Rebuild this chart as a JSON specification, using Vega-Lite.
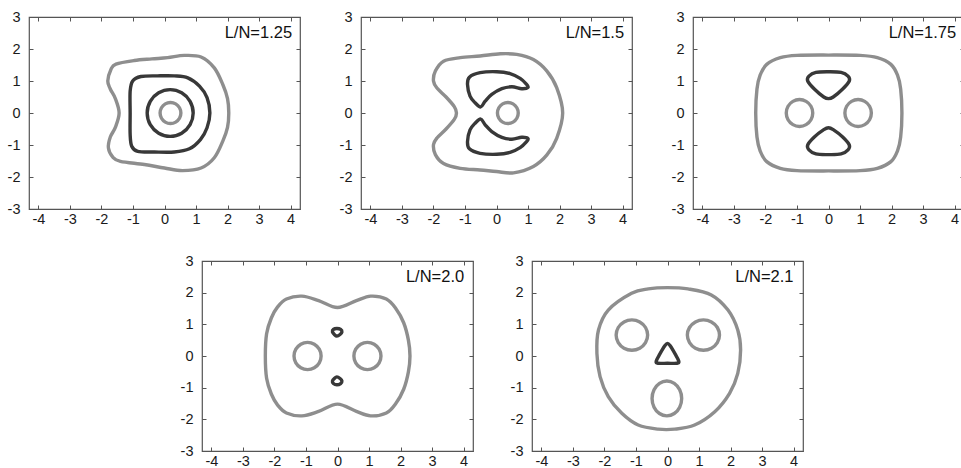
{
"$schema":"https://vega.github.io/schema/vega-lite/v6.json",
"autosize":{"type":"pad"},
"padding":{"left":6,"top":8,"right":0,"bottom":0},
"background":"white",
"config":{
 "font":"Liberation Sans",
 "view":{"stroke":"#555555","strokeWidth":1.2},
 "axis":{"domain":false,"grid":false,"tickSize":-4,"tickColor":"#555555","tickWidth":1,"labelFontSize":14.5,"labelColor":"#1a1a1a","labelFont":"Liberation Sans","labelFlush":false,"labelOverlap":false,"labelExpr":"replace(datum.label, '\u2212', '-')"},
 "axisX":{"labelPadding":7},
 "axisY":{"labelPadding":13}
},
"datasets":{
"lab":[
 {"p":1,"x":4.05,"y":2.5,"label":"L/N=1.25"},
 {"p":2,"x":4.05,"y":2.5,"label":"L/N=1.5"},
 {"p":3,"x":4.05,"y":2.5,"label":"L/N=1.75"},
 {"p":4,"x":4.02,"y":2.5,"label":"L/N=2.0"},
 {"p":5,"x":4.0,"y":2.5,"label":"L/N=2.1"}
],
"c":[
{"p":1,"c":"1a","t":"g","i":0,"x":0.52,"y":0},
{"p":1,"c":"1a","t":"g","i":1,"x":0.476,"y":0.165},
{"p":1,"c":"1a","t":"g","i":2,"x":0.355,"y":0.286},
{"p":1,"c":"1a","t":"g","i":3,"x":0.19,"y":0.33},
{"p":1,"c":"1a","t":"g","i":4,"x":0.025,"y":0.286},
{"p":1,"c":"1a","t":"g","i":5,"x":-0.096,"y":0.165},
{"p":1,"c":"1a","t":"g","i":6,"x":-0.14,"y":0},
{"p":1,"c":"1a","t":"g","i":7,"x":-0.096,"y":-0.165},
{"p":1,"c":"1a","t":"g","i":8,"x":0.025,"y":-0.286},
{"p":1,"c":"1a","t":"g","i":9,"x":0.19,"y":-0.33},
{"p":1,"c":"1a","t":"g","i":10,"x":0.355,"y":-0.286},
{"p":1,"c":"1a","t":"g","i":11,"x":0.476,"y":-0.165},

{"p":1,"c":"1b","t":"d","i":0,"x":0.91,"y":0},
{"p":1,"c":"1b","t":"d","i":1,"x":0.812,"y":0.365},
{"p":1,"c":"1b","t":"d","i":2,"x":0.545,"y":0.632},
{"p":1,"c":"1b","t":"d","i":3,"x":0.18,"y":0.73},
{"p":1,"c":"1b","t":"d","i":4,"x":-0.185,"y":0.632},
{"p":1,"c":"1b","t":"d","i":5,"x":-0.452,"y":0.365},
{"p":1,"c":"1b","t":"d","i":6,"x":-0.55,"y":0},
{"p":1,"c":"1b","t":"d","i":7,"x":-0.452,"y":-0.365},
{"p":1,"c":"1b","t":"d","i":8,"x":-0.185,"y":-0.632},
{"p":1,"c":"1b","t":"d","i":9,"x":0.18,"y":-0.73},
{"p":1,"c":"1b","t":"d","i":10,"x":0.545,"y":-0.632},
{"p":1,"c":"1b","t":"d","i":11,"x":0.812,"y":-0.365},

{"p":1,"c":"1c","t":"d","i":0,"x":-1.09,"y":0},
{"p":1,"c":"1c","t":"d","i":1,"x":-1.09,"y":0.68},
{"p":1,"c":"1c","t":"d","i":2,"x":-1.01,"y":1.0},
{"p":1,"c":"1c","t":"d","i":3,"x":-0.75,"y":1.14},
{"p":1,"c":"1c","t":"d","i":4,"x":-0.22,"y":1.16},
{"p":1,"c":"1c","t":"d","i":5,"x":0.31,"y":1.16},
{"p":1,"c":"1c","t":"d","i":6,"x":0.74,"y":1.1},
{"p":1,"c":"1c","t":"d","i":7,"x":1.11,"y":0.84},
{"p":1,"c":"1c","t":"d","i":8,"x":1.35,"y":0.48},
{"p":1,"c":"1c","t":"d","i":9,"x":1.44,"y":0},
{"p":1,"c":"1c","t":"d","i":10,"x":1.35,"y":-0.46},
{"p":1,"c":"1c","t":"d","i":11,"x":1.14,"y":-0.83},
{"p":1,"c":"1c","t":"d","i":12,"x":0.79,"y":-1.12},
{"p":1,"c":"1c","t":"d","i":13,"x":0.31,"y":-1.22},
{"p":1,"c":"1c","t":"d","i":14,"x":-0.32,"y":-1.22},
{"p":1,"c":"1c","t":"d","i":15,"x":-0.85,"y":-1.2},
{"p":1,"c":"1c","t":"d","i":16,"x":-1.04,"y":-1.04},
{"p":1,"c":"1c","t":"d","i":17,"x":-1.09,"y":-0.67},

{"p":1,"c":"1d","t":"g","i":0,"x":-1.8,"y":1.0},
{"p":1,"c":"1d","t":"g","i":1,"x":-1.7,"y":1.36},
{"p":1,"c":"1d","t":"g","i":2,"x":-1.54,"y":1.53},
{"p":1,"c":"1d","t":"g","i":3,"x":-0.96,"y":1.64},
{"p":1,"c":"1d","t":"g","i":4,"x":-0.4,"y":1.69},
{"p":1,"c":"1d","t":"g","i":5,"x":0.1,"y":1.73},
{"p":1,"c":"1d","t":"g","i":6,"x":0.63,"y":1.8},
{"p":1,"c":"1d","t":"g","i":7,"x":1.16,"y":1.75},
{"p":1,"c":"1d","t":"g","i":8,"x":1.58,"y":1.41},
{"p":1,"c":"1d","t":"g","i":9,"x":1.85,"y":0.89},
{"p":1,"c":"1d","t":"g","i":10,"x":2.0,"y":0.45},
{"p":1,"c":"1d","t":"g","i":11,"x":2.04,"y":0},
{"p":1,"c":"1d","t":"g","i":12,"x":2.0,"y":-0.45},
{"p":1,"c":"1d","t":"g","i":13,"x":1.85,"y":-0.88},
{"p":1,"c":"1d","t":"g","i":14,"x":1.58,"y":-1.4},
{"p":1,"c":"1d","t":"g","i":15,"x":1.16,"y":-1.72},
{"p":1,"c":"1d","t":"g","i":16,"x":0.57,"y":-1.8},
{"p":1,"c":"1d","t":"g","i":17,"x":0,"y":-1.72},
{"p":1,"c":"1d","t":"g","i":18,"x":-0.64,"y":-1.61},
{"p":1,"c":"1d","t":"g","i":19,"x":-1.4,"y":-1.51},
{"p":1,"c":"1d","t":"g","i":20,"x":-1.64,"y":-1.38},
{"p":1,"c":"1d","t":"g","i":21,"x":-1.78,"y":-1.09},
{"p":1,"c":"1d","t":"g","i":22,"x":-1.72,"y":-0.75},
{"p":1,"c":"1d","t":"g","i":23,"x":-1.56,"y":-0.45},
{"p":1,"c":"1d","t":"g","i":24,"x":-1.44,"y":0},
{"p":1,"c":"1d","t":"g","i":25,"x":-1.56,"y":0.45},
{"p":1,"c":"1d","t":"g","i":26,"x":-1.72,"y":0.75},

{"p":2,"c":"2a","t":"g","i":0,"x":0.69,"y":0},
{"p":2,"c":"2a","t":"g","i":1,"x":0.646,"y":0.165},
{"p":2,"c":"2a","t":"g","i":2,"x":0.525,"y":0.286},
{"p":2,"c":"2a","t":"g","i":3,"x":0.36,"y":0.33},
{"p":2,"c":"2a","t":"g","i":4,"x":0.195,"y":0.286},
{"p":2,"c":"2a","t":"g","i":5,"x":0.074,"y":0.165},
{"p":2,"c":"2a","t":"g","i":6,"x":0.03,"y":0},
{"p":2,"c":"2a","t":"g","i":7,"x":0.074,"y":-0.165},
{"p":2,"c":"2a","t":"g","i":8,"x":0.195,"y":-0.286},
{"p":2,"c":"2a","t":"g","i":9,"x":0.36,"y":-0.33},
{"p":2,"c":"2a","t":"g","i":10,"x":0.525,"y":-0.286},
{"p":2,"c":"2a","t":"g","i":11,"x":0.646,"y":-0.165},

{"p":2,"c":"2b","t":"d","i":0,"x":-0.92,"y":0.89},
{"p":2,"c":"2b","t":"d","i":1,"x":-0.86,"y":1.12},
{"p":2,"c":"2b","t":"d","i":2,"x":-0.52,"y":1.26},
{"p":2,"c":"2b","t":"d","i":3,"x":0.01,"y":1.29},
{"p":2,"c":"2b","t":"d","i":4,"x":0.43,"y":1.23},
{"p":2,"c":"2b","t":"d","i":5,"x":0.75,"y":1.08},
{"p":2,"c":"2b","t":"d","i":6,"x":0.94,"y":0.91},
{"p":2,"c":"2b","t":"d","i":7,"x":1.0,"y":0.8},
{"p":2,"c":"2b","t":"d","i":8,"x":0.8,"y":0.76},
{"p":2,"c":"2b","t":"d","i":9,"x":0.49,"y":0.82},
{"p":2,"c":"2b","t":"d","i":10,"x":0.17,"y":0.76},
{"p":2,"c":"2b","t":"d","i":11,"x":-0.15,"y":0.58},
{"p":2,"c":"2b","t":"d","i":12,"x":-0.36,"y":0.37},
{"p":2,"c":"2b","t":"d","i":13,"x":-0.5,"y":0.19},
{"p":2,"c":"2b","t":"d","i":14,"x":-0.68,"y":0.32},
{"p":2,"c":"2b","t":"d","i":15,"x":-0.84,"y":0.53},

{"p":2,"c":"2c","t":"d","i":0,"x":-0.92,"y":-0.89},
{"p":2,"c":"2c","t":"d","i":1,"x":-0.86,"y":-1.12},
{"p":2,"c":"2c","t":"d","i":2,"x":-0.52,"y":-1.26},
{"p":2,"c":"2c","t":"d","i":3,"x":0.01,"y":-1.29},
{"p":2,"c":"2c","t":"d","i":4,"x":0.43,"y":-1.23},
{"p":2,"c":"2c","t":"d","i":5,"x":0.75,"y":-1.08},
{"p":2,"c":"2c","t":"d","i":6,"x":0.94,"y":-0.91},
{"p":2,"c":"2c","t":"d","i":7,"x":1.0,"y":-0.8},
{"p":2,"c":"2c","t":"d","i":8,"x":0.8,"y":-0.76},
{"p":2,"c":"2c","t":"d","i":9,"x":0.49,"y":-0.82},
{"p":2,"c":"2c","t":"d","i":10,"x":0.17,"y":-0.76},
{"p":2,"c":"2c","t":"d","i":11,"x":-0.15,"y":-0.58},
{"p":2,"c":"2c","t":"d","i":12,"x":-0.36,"y":-0.37},
{"p":2,"c":"2c","t":"d","i":13,"x":-0.5,"y":-0.19},
{"p":2,"c":"2c","t":"d","i":14,"x":-0.68,"y":-0.32},
{"p":2,"c":"2c","t":"d","i":15,"x":-0.84,"y":-0.53},

{"p":2,"c":"2d","t":"g","i":0,"x":-2.0,"y":1.0},
{"p":2,"c":"2d","t":"g","i":1,"x":-1.94,"y":1.31},
{"p":2,"c":"2d","t":"g","i":2,"x":-1.68,"y":1.62},
{"p":2,"c":"2d","t":"g","i":3,"x":-1.15,"y":1.73},
{"p":2,"c":"2d","t":"g","i":4,"x":-0.52,"y":1.78},
{"p":2,"c":"2d","t":"g","i":5,"x":0.12,"y":1.85},
{"p":2,"c":"2d","t":"g","i":6,"x":0.64,"y":1.83},
{"p":2,"c":"2d","t":"g","i":7,"x":1.17,"y":1.67},
{"p":2,"c":"2d","t":"g","i":8,"x":1.6,"y":1.31},
{"p":2,"c":"2d","t":"g","i":9,"x":1.91,"y":0.79},
{"p":2,"c":"2d","t":"g","i":10,"x":2.1,"y":0},
{"p":2,"c":"2d","t":"g","i":11,"x":1.91,"y":-0.79},
{"p":2,"c":"2d","t":"g","i":12,"x":1.6,"y":-1.31},
{"p":2,"c":"2d","t":"g","i":13,"x":1.17,"y":-1.67},
{"p":2,"c":"2d","t":"g","i":14,"x":0.54,"y":-1.87},
{"p":2,"c":"2d","t":"g","i":15,"x":0,"y":-1.83},
{"p":2,"c":"2d","t":"g","i":16,"x":-0.52,"y":-1.78},
{"p":2,"c":"2d","t":"g","i":17,"x":-1.15,"y":-1.73},
{"p":2,"c":"2d","t":"g","i":18,"x":-1.68,"y":-1.58},
{"p":2,"c":"2d","t":"g","i":19,"x":-1.94,"y":-1.3},
{"p":2,"c":"2d","t":"g","i":20,"x":-2.0,"y":-0.99},
{"p":2,"c":"2d","t":"g","i":21,"x":-1.89,"y":-0.78},
{"p":2,"c":"2d","t":"g","i":22,"x":-1.6,"y":-0.5},
{"p":2,"c":"2d","t":"g","i":23,"x":-1.34,"y":-0.2},
{"p":2,"c":"2d","t":"g","i":24,"x":-1.27,"y":0},
{"p":2,"c":"2d","t":"g","i":25,"x":-1.34,"y":0.2},
{"p":2,"c":"2d","t":"g","i":26,"x":-1.6,"y":0.5},
{"p":2,"c":"2d","t":"g","i":27,"x":-1.89,"y":0.78},

{"p":3,"c":"3a","t":"g","i":0,"x":-2.31,"y":0},
{"p":3,"c":"3a","t":"g","i":1,"x":-2.27,"y":0.75},
{"p":3,"c":"3a","t":"g","i":2,"x":-2.17,"y":1.18},
{"p":3,"c":"3a","t":"g","i":3,"x":-1.96,"y":1.52},
{"p":3,"c":"3a","t":"g","i":4,"x":-1.53,"y":1.73},
{"p":3,"c":"3a","t":"g","i":5,"x":-1.0,"y":1.8},
{"p":3,"c":"3a","t":"g","i":6,"x":0,"y":1.81},
{"p":3,"c":"3a","t":"g","i":7,"x":1.0,"y":1.8},
{"p":3,"c":"3a","t":"g","i":8,"x":1.55,"y":1.73},
{"p":3,"c":"3a","t":"g","i":9,"x":1.98,"y":1.52},
{"p":3,"c":"3a","t":"g","i":10,"x":2.19,"y":1.18},
{"p":3,"c":"3a","t":"g","i":11,"x":2.29,"y":0.75},
{"p":3,"c":"3a","t":"g","i":12,"x":2.33,"y":0},
{"p":3,"c":"3a","t":"g","i":13,"x":2.29,"y":-0.75},
{"p":3,"c":"3a","t":"g","i":14,"x":2.19,"y":-1.18},
{"p":3,"c":"3a","t":"g","i":15,"x":1.98,"y":-1.52},
{"p":3,"c":"3a","t":"g","i":16,"x":1.55,"y":-1.73},
{"p":3,"c":"3a","t":"g","i":17,"x":1.0,"y":-1.8},
{"p":3,"c":"3a","t":"g","i":18,"x":0,"y":-1.81},
{"p":3,"c":"3a","t":"g","i":19,"x":-1.0,"y":-1.8},
{"p":3,"c":"3a","t":"g","i":20,"x":-1.53,"y":-1.73},
{"p":3,"c":"3a","t":"g","i":21,"x":-1.96,"y":-1.52},
{"p":3,"c":"3a","t":"g","i":22,"x":-2.17,"y":-1.18},
{"p":3,"c":"3a","t":"g","i":23,"x":-2.27,"y":-0.75},

{"p":3,"c":"3b","t":"g","i":0,"x":-0.5,"y":0},
{"p":3,"c":"3b","t":"g","i":1,"x":-0.556,"y":0.21},
{"p":3,"c":"3b","t":"g","i":2,"x":-0.71,"y":0.364},
{"p":3,"c":"3b","t":"g","i":3,"x":-0.92,"y":0.42},
{"p":3,"c":"3b","t":"g","i":4,"x":-1.13,"y":0.364},
{"p":3,"c":"3b","t":"g","i":5,"x":-1.284,"y":0.21},
{"p":3,"c":"3b","t":"g","i":6,"x":-1.34,"y":0},
{"p":3,"c":"3b","t":"g","i":7,"x":-1.284,"y":-0.21},
{"p":3,"c":"3b","t":"g","i":8,"x":-1.13,"y":-0.364},
{"p":3,"c":"3b","t":"g","i":9,"x":-0.92,"y":-0.42},
{"p":3,"c":"3b","t":"g","i":10,"x":-0.71,"y":-0.364},
{"p":3,"c":"3b","t":"g","i":11,"x":-0.556,"y":-0.21},

{"p":3,"c":"3c","t":"g","i":0,"x":1.36,"y":0},
{"p":3,"c":"3c","t":"g","i":1,"x":1.304,"y":0.21},
{"p":3,"c":"3c","t":"g","i":2,"x":1.15,"y":0.364},
{"p":3,"c":"3c","t":"g","i":3,"x":0.94,"y":0.42},
{"p":3,"c":"3c","t":"g","i":4,"x":0.73,"y":0.364},
{"p":3,"c":"3c","t":"g","i":5,"x":0.576,"y":0.21},
{"p":3,"c":"3c","t":"g","i":6,"x":0.52,"y":0},
{"p":3,"c":"3c","t":"g","i":7,"x":0.576,"y":-0.21},
{"p":3,"c":"3c","t":"g","i":8,"x":0.73,"y":-0.364},
{"p":3,"c":"3c","t":"g","i":9,"x":0.94,"y":-0.42},
{"p":3,"c":"3c","t":"g","i":10,"x":1.15,"y":-0.364},
{"p":3,"c":"3c","t":"g","i":11,"x":1.304,"y":-0.21},

{"p":3,"c":"3d","t":"d","i":0,"x":0,"y":1.29},
{"p":3,"c":"3d","t":"d","i":1,"x":0.4,"y":1.27},
{"p":3,"c":"3d","t":"d","i":2,"x":0.62,"y":1.15},
{"p":3,"c":"3d","t":"d","i":3,"x":0.66,"y":1.0},
{"p":3,"c":"3d","t":"d","i":4,"x":0.45,"y":0.75},
{"p":3,"c":"3d","t":"d","i":5,"x":0.15,"y":0.5},
{"p":3,"c":"3d","t":"d","i":6,"x":0,"y":0.45},
{"p":3,"c":"3d","t":"d","i":7,"x":-0.15,"y":0.5},
{"p":3,"c":"3d","t":"d","i":8,"x":-0.45,"y":0.75},
{"p":3,"c":"3d","t":"d","i":9,"x":-0.66,"y":1.0},
{"p":3,"c":"3d","t":"d","i":10,"x":-0.62,"y":1.15},
{"p":3,"c":"3d","t":"d","i":11,"x":-0.4,"y":1.27},

{"p":3,"c":"3e","t":"d","i":0,"x":0,"y":-1.3},
{"p":3,"c":"3e","t":"d","i":1,"x":0.4,"y":-1.28},
{"p":3,"c":"3e","t":"d","i":2,"x":0.62,"y":-1.15},
{"p":3,"c":"3e","t":"d","i":3,"x":0.66,"y":-1.0},
{"p":3,"c":"3e","t":"d","i":4,"x":0.45,"y":-0.75},
{"p":3,"c":"3e","t":"d","i":5,"x":0.15,"y":-0.52},
{"p":3,"c":"3e","t":"d","i":6,"x":0,"y":-0.46},
{"p":3,"c":"3e","t":"d","i":7,"x":-0.15,"y":-0.52},
{"p":3,"c":"3e","t":"d","i":8,"x":-0.45,"y":-0.75},
{"p":3,"c":"3e","t":"d","i":9,"x":-0.66,"y":-1.0},
{"p":3,"c":"3e","t":"d","i":10,"x":-0.62,"y":-1.15},
{"p":3,"c":"3e","t":"d","i":11,"x":-0.4,"y":-1.28},

{"p":4,"c":"4a","t":"g","i":0,"x":-2.29,"y":0},
{"p":4,"c":"4a","t":"g","i":1,"x":-2.25,"y":0.7},
{"p":4,"c":"4a","t":"g","i":2,"x":-2.1,"y":1.2},
{"p":4,"c":"4a","t":"g","i":3,"x":-1.9,"y":1.55},
{"p":4,"c":"4a","t":"g","i":4,"x":-1.62,"y":1.8},
{"p":4,"c":"4a","t":"g","i":5,"x":-1.13,"y":1.89},
{"p":4,"c":"4a","t":"g","i":6,"x":-0.6,"y":1.75},
{"p":4,"c":"4a","t":"g","i":7,"x":0,"y":1.53},
{"p":4,"c":"4a","t":"g","i":8,"x":0.6,"y":1.75},
{"p":4,"c":"4a","t":"g","i":9,"x":1.05,"y":1.89},
{"p":4,"c":"4a","t":"g","i":10,"x":1.55,"y":1.8},
{"p":4,"c":"4a","t":"g","i":11,"x":1.85,"y":1.5},
{"p":4,"c":"4a","t":"g","i":12,"x":2.1,"y":1.05},
{"p":4,"c":"4a","t":"g","i":13,"x":2.25,"y":0.5},
{"p":4,"c":"4a","t":"g","i":14,"x":2.3,"y":0},
{"p":4,"c":"4a","t":"g","i":15,"x":2.25,"y":-0.5},
{"p":4,"c":"4a","t":"g","i":16,"x":2.1,"y":-1.05},
{"p":4,"c":"4a","t":"g","i":17,"x":1.85,"y":-1.5},
{"p":4,"c":"4a","t":"g","i":18,"x":1.55,"y":-1.8},
{"p":4,"c":"4a","t":"g","i":19,"x":1.05,"y":-1.89},
{"p":4,"c":"4a","t":"g","i":20,"x":0.6,"y":-1.75},
{"p":4,"c":"4a","t":"g","i":21,"x":0,"y":-1.52},
{"p":4,"c":"4a","t":"g","i":22,"x":-0.6,"y":-1.75},
{"p":4,"c":"4a","t":"g","i":23,"x":-1.13,"y":-1.89},
{"p":4,"c":"4a","t":"g","i":24,"x":-1.62,"y":-1.8},
{"p":4,"c":"4a","t":"g","i":25,"x":-1.9,"y":-1.55},
{"p":4,"c":"4a","t":"g","i":26,"x":-2.1,"y":-1.2},
{"p":4,"c":"4a","t":"g","i":27,"x":-2.25,"y":-0.7},

{"p":4,"c":"4b","t":"g","i":0,"x":-0.52,"y":0},
{"p":4,"c":"4b","t":"g","i":1,"x":-0.578,"y":0.215},
{"p":4,"c":"4b","t":"g","i":2,"x":-0.735,"y":0.372},
{"p":4,"c":"4b","t":"g","i":3,"x":-0.95,"y":0.43},
{"p":4,"c":"4b","t":"g","i":4,"x":-1.165,"y":0.372},
{"p":4,"c":"4b","t":"g","i":5,"x":-1.322,"y":0.215},
{"p":4,"c":"4b","t":"g","i":6,"x":-1.38,"y":0},
{"p":4,"c":"4b","t":"g","i":7,"x":-1.322,"y":-0.215},
{"p":4,"c":"4b","t":"g","i":8,"x":-1.165,"y":-0.372},
{"p":4,"c":"4b","t":"g","i":9,"x":-0.95,"y":-0.43},
{"p":4,"c":"4b","t":"g","i":10,"x":-0.735,"y":-0.372},
{"p":4,"c":"4b","t":"g","i":11,"x":-0.578,"y":-0.215},

{"p":4,"c":"4c","t":"g","i":0,"x":1.38,"y":0},
{"p":4,"c":"4c","t":"g","i":1,"x":1.322,"y":0.215},
{"p":4,"c":"4c","t":"g","i":2,"x":1.165,"y":0.372},
{"p":4,"c":"4c","t":"g","i":3,"x":0.95,"y":0.43},
{"p":4,"c":"4c","t":"g","i":4,"x":0.735,"y":0.372},
{"p":4,"c":"4c","t":"g","i":5,"x":0.578,"y":0.215},
{"p":4,"c":"4c","t":"g","i":6,"x":0.52,"y":0},
{"p":4,"c":"4c","t":"g","i":7,"x":0.578,"y":-0.215},
{"p":4,"c":"4c","t":"g","i":8,"x":0.735,"y":-0.372},
{"p":4,"c":"4c","t":"g","i":9,"x":0.95,"y":-0.43},
{"p":4,"c":"4c","t":"g","i":10,"x":1.165,"y":-0.372},
{"p":4,"c":"4c","t":"g","i":11,"x":1.322,"y":-0.215},

{"p":4,"c":"4d","t":"d","i":0,"x":-0.02,"y":0.87},
{"p":4,"c":"4d","t":"d","i":1,"x":0.1,"y":0.84},
{"p":4,"c":"4d","t":"d","i":2,"x":0.14,"y":0.76},
{"p":4,"c":"4d","t":"d","i":3,"x":0.08,"y":0.68},
{"p":4,"c":"4d","t":"d","i":4,"x":-0.02,"y":0.63},
{"p":4,"c":"4d","t":"d","i":5,"x":-0.1,"y":0.68},
{"p":4,"c":"4d","t":"d","i":6,"x":-0.16,"y":0.76},
{"p":4,"c":"4d","t":"d","i":7,"x":-0.13,"y":0.84},

{"p":4,"c":"4e","t":"d","i":0,"x":-0.02,"y":-0.66},
{"p":4,"c":"4e","t":"d","i":1,"x":0.08,"y":-0.71},
{"p":4,"c":"4e","t":"d","i":2,"x":0.14,"y":-0.79},
{"p":4,"c":"4e","t":"d","i":3,"x":0.1,"y":-0.87},
{"p":4,"c":"4e","t":"d","i":4,"x":-0.02,"y":-0.91},
{"p":4,"c":"4e","t":"d","i":5,"x":-0.13,"y":-0.87},
{"p":4,"c":"4e","t":"d","i":6,"x":-0.16,"y":-0.79},
{"p":4,"c":"4e","t":"d","i":7,"x":-0.1,"y":-0.71},

{"p":5,"c":"5a","t":"g","i":0,"x":-1.88,"y":1.45},
{"p":5,"c":"5a","t":"g","i":1,"x":-1.14,"y":1.98},
{"p":5,"c":"5a","t":"g","i":2,"x":-0.61,"y":2.12},
{"p":5,"c":"5a","t":"g","i":3,"x":0,"y":2.16},
{"p":5,"c":"5a","t":"g","i":4,"x":0.65,"y":2.12},
{"p":5,"c":"5a","t":"g","i":5,"x":1.39,"y":1.93},
{"p":5,"c":"5a","t":"g","i":6,"x":1.92,"y":1.45},
{"p":5,"c":"5a","t":"g","i":7,"x":2.23,"y":0.82},
{"p":5,"c":"5a","t":"g","i":8,"x":2.32,"y":0.19},
{"p":5,"c":"5a","t":"g","i":9,"x":2.23,"y":-0.55},
{"p":5,"c":"5a","t":"g","i":10,"x":1.97,"y":-1.18},
{"p":5,"c":"5a","t":"g","i":11,"x":1.5,"y":-1.76},
{"p":5,"c":"5a","t":"g","i":12,"x":0.86,"y":-2.18},
{"p":5,"c":"5a","t":"g","i":13,"x":0.23,"y":-2.31},
{"p":5,"c":"5a","t":"g","i":14,"x":-0.3,"y":-2.31},
{"p":5,"c":"5a","t":"g","i":15,"x":-0.93,"y":-2.18},
{"p":5,"c":"5a","t":"g","i":16,"x":-1.45,"y":-1.81},
{"p":5,"c":"5a","t":"g","i":17,"x":-1.88,"y":-1.28},
{"p":5,"c":"5a","t":"g","i":18,"x":-2.14,"y":-0.65},
{"p":5,"c":"5a","t":"g","i":19,"x":-2.24,"y":0.08},
{"p":5,"c":"5a","t":"g","i":20,"x":-2.19,"y":0.82},

{"p":5,"c":"5b","t":"g","i":0,"x":-0.63,"y":0.66},
{"p":5,"c":"5b","t":"g","i":1,"x":-0.697,"y":0.9},
{"p":5,"c":"5b","t":"g","i":2,"x":-0.88,"y":1.076},
{"p":5,"c":"5b","t":"g","i":3,"x":-1.13,"y":1.14},
{"p":5,"c":"5b","t":"g","i":4,"x":-1.38,"y":1.076},
{"p":5,"c":"5b","t":"g","i":5,"x":-1.563,"y":0.9},
{"p":5,"c":"5b","t":"g","i":6,"x":-1.63,"y":0.66},
{"p":5,"c":"5b","t":"g","i":7,"x":-1.563,"y":0.42},
{"p":5,"c":"5b","t":"g","i":8,"x":-1.38,"y":0.244},
{"p":5,"c":"5b","t":"g","i":9,"x":-1.13,"y":0.18},
{"p":5,"c":"5b","t":"g","i":10,"x":-0.88,"y":0.244},
{"p":5,"c":"5b","t":"g","i":11,"x":-0.697,"y":0.42},

{"p":5,"c":"5c","t":"g","i":0,"x":1.65,"y":0.66},
{"p":5,"c":"5c","t":"g","i":1,"x":1.582,"y":0.9},
{"p":5,"c":"5c","t":"g","i":2,"x":1.395,"y":1.076},
{"p":5,"c":"5c","t":"g","i":3,"x":1.14,"y":1.14},
{"p":5,"c":"5c","t":"g","i":4,"x":0.885,"y":1.076},
{"p":5,"c":"5c","t":"g","i":5,"x":0.698,"y":0.9},
{"p":5,"c":"5c","t":"g","i":6,"x":0.63,"y":0.66},
{"p":5,"c":"5c","t":"g","i":7,"x":0.698,"y":0.42},
{"p":5,"c":"5c","t":"g","i":8,"x":0.885,"y":0.244},
{"p":5,"c":"5c","t":"g","i":9,"x":1.14,"y":0.18},
{"p":5,"c":"5c","t":"g","i":10,"x":1.395,"y":0.244},
{"p":5,"c":"5c","t":"g","i":11,"x":1.582,"y":0.42},

{"p":5,"c":"5d","t":"g","i":0,"x":0.45,"y":-1.34},
{"p":5,"c":"5d","t":"g","i":1,"x":0.387,"y":-1.065},
{"p":5,"c":"5d","t":"g","i":2,"x":0.215,"y":-0.864},
{"p":5,"c":"5d","t":"g","i":3,"x":-0.02,"y":-0.79},
{"p":5,"c":"5d","t":"g","i":4,"x":-0.255,"y":-0.864},
{"p":5,"c":"5d","t":"g","i":5,"x":-0.427,"y":-1.065},
{"p":5,"c":"5d","t":"g","i":6,"x":-0.49,"y":-1.34},
{"p":5,"c":"5d","t":"g","i":7,"x":-0.427,"y":-1.615},
{"p":5,"c":"5d","t":"g","i":8,"x":-0.255,"y":-1.816},
{"p":5,"c":"5d","t":"g","i":9,"x":-0.02,"y":-1.89},
{"p":5,"c":"5d","t":"g","i":10,"x":0.215,"y":-1.816},
{"p":5,"c":"5d","t":"g","i":11,"x":0.387,"y":-1.615},

{"p":5,"c":"5e","t":"d","i":0,"x":0,"y":0.4},
{"p":5,"c":"5e","t":"d","i":1,"x":0.08,"y":0.33},
{"p":5,"c":"5e","t":"d","i":2,"x":0.25,"y":0.05},
{"p":5,"c":"5e","t":"d","i":3,"x":0.36,"y":-0.17},
{"p":5,"c":"5e","t":"d","i":4,"x":0.3,"y":-0.23},
{"p":5,"c":"5e","t":"d","i":5,"x":0,"y":-0.23},
{"p":5,"c":"5e","t":"d","i":6,"x":-0.3,"y":-0.23},
{"p":5,"c":"5e","t":"d","i":7,"x":-0.36,"y":-0.17},
{"p":5,"c":"5e","t":"d","i":8,"x":-0.25,"y":0.05},
{"p":5,"c":"5e","t":"d","i":9,"x":-0.08,"y":0.33}
]},
"spacing":25,
"vconcat":[
{"spacing":36,"hconcat":[
 {"width":271,"height":192,"resolve":{"axis":{"x":"independent","y":"independent"}},"layer":[
  {"data":{"name":"c"},"transform":[{"filter":"datum.p == 1"}],"mark":{"type":"line","interpolate":"cardinal-closed","strokeWidth":3.4},
   "encoding":{"x":{"field":"x","type":"quantitative","title":null,"scale":{"domain":[-4.3,4.3],"nice":false,"zero":false},"axis":{"orient":"bottom","values":[-4,-3,-2,-1,0,1,2,3,4]}},
    "y":{"field":"y","type":"quantitative","title":null,"scale":{"domain":[-3,3],"nice":false,"zero":false},"axis":{"orient":"left","values":[-3,-2,-1,0,1,2,3]}},
    "detail":{"field":"c"},"order":{"field":"i"},
    "color":{"field":"t","type":"nominal","scale":{"domain":["g","d"],"range":["#8e8e8e","#383838"]},"legend":null}}},
  {"data":{"name":"lab"},"transform":[{"filter":"datum.p == 1"}],"mark":{"type":"text","align":"right","baseline":"middle","fontSize":16.5,"color":"#111111"},
   "encoding":{"x":{"field":"x","type":"quantitative","title":null,"scale":{"domain":[-4.3,4.3],"nice":false,"zero":false},"axis":{"orient":"top","labels":false,"values":[-4,-3,-2,-1,0,1,2,3,4]}},
    "y":{"field":"y","type":"quantitative","title":null,"scale":{"domain":[-3,3],"nice":false,"zero":false},"axis":{"orient":"right","labels":false,"values":[-3,-2,-1,0,1,2,3]}},
    "text":{"field":"label"}}}
 ]},
 {"width":271,"height":192,"resolve":{"axis":{"x":"independent","y":"independent"}},"layer":[
  {"data":{"name":"c"},"transform":[{"filter":"datum.p == 2"}],"mark":{"type":"line","interpolate":"cardinal-closed","strokeWidth":3.4},
   "encoding":{"x":{"field":"x","type":"quantitative","title":null,"scale":{"domain":[-4.3,4.3],"nice":false,"zero":false},"axis":{"orient":"bottom","values":[-4,-3,-2,-1,0,1,2,3,4]}},
    "y":{"field":"y","type":"quantitative","title":null,"scale":{"domain":[-3,3],"nice":false,"zero":false},"axis":{"orient":"left","values":[-3,-2,-1,0,1,2,3]}},
    "detail":{"field":"c"},"order":{"field":"i"},
    "color":{"field":"t","type":"nominal","scale":{"domain":["g","d"],"range":["#8e8e8e","#383838"]},"legend":null}}},
  {"data":{"name":"lab"},"transform":[{"filter":"datum.p == 2"}],"mark":{"type":"text","align":"right","baseline":"middle","fontSize":16.5,"color":"#111111"},
   "encoding":{"x":{"field":"x","type":"quantitative","title":null,"scale":{"domain":[-4.3,4.3],"nice":false,"zero":false},"axis":{"orient":"top","labels":false,"values":[-4,-3,-2,-1,0,1,2,3,4]}},
    "y":{"field":"y","type":"quantitative","title":null,"scale":{"domain":[-3,3],"nice":false,"zero":false},"axis":{"orient":"right","labels":false,"values":[-3,-2,-1,0,1,2,3]}},
    "text":{"field":"label"}}}
 ]},
 {"width":271,"height":192,"resolve":{"axis":{"x":"independent","y":"independent"}},"layer":[
  {"data":{"name":"c"},"transform":[{"filter":"datum.p == 3"}],"mark":{"type":"line","interpolate":"cardinal-closed","strokeWidth":3.4},
   "encoding":{"x":{"field":"x","type":"quantitative","title":null,"scale":{"domain":[-4.3,4.3],"nice":false,"zero":false},"axis":{"orient":"bottom","values":[-4,-3,-2,-1,0,1,2,3,4]}},
    "y":{"field":"y","type":"quantitative","title":null,"scale":{"domain":[-3,3],"nice":false,"zero":false},"axis":{"orient":"left","values":[-3,-2,-1,0,1,2,3]}},
    "detail":{"field":"c"},"order":{"field":"i"},
    "color":{"field":"t","type":"nominal","scale":{"domain":["g","d"],"range":["#8e8e8e","#383838"]},"legend":null}}},
  {"data":{"name":"lab"},"transform":[{"filter":"datum.p == 3"}],"mark":{"type":"text","align":"right","baseline":"middle","fontSize":16.5,"color":"#111111"},
   "encoding":{"x":{"field":"x","type":"quantitative","title":null,"scale":{"domain":[-4.3,4.3],"nice":false,"zero":false},"axis":{"orient":"top","labels":false,"values":[-4,-3,-2,-1,0,1,2,3,4]}},
    "y":{"field":"y","type":"quantitative","title":null,"scale":{"domain":[-3,3],"nice":false,"zero":false},"axis":{"orient":"right","labels":false,"values":[-3,-2,-1,0,1,2,3]}},
    "text":{"field":"label"}}}
 ]}
]},
{"spacing":34,"hconcat":[
 {"width":116,"height":190,"data":{"values":[]},"mark":{"type":"point"},"view":{"stroke":null}},
 {"width":271,"height":190,"resolve":{"axis":{"x":"independent","y":"independent"}},"layer":[
  {"data":{"name":"c"},"transform":[{"filter":"datum.p == 4"}],"mark":{"type":"line","interpolate":"cardinal-closed","strokeWidth":3.4},
   "encoding":{"x":{"field":"x","type":"quantitative","title":null,"scale":{"domain":[-4.3,4.3],"nice":false,"zero":false},"axis":{"orient":"bottom","values":[-4,-3,-2,-1,0,1,2,3,4]}},
    "y":{"field":"y","type":"quantitative","title":null,"scale":{"domain":[-3,3],"nice":false,"zero":false},"axis":{"orient":"left","values":[-3,-2,-1,0,1,2,3]}},
    "detail":{"field":"c"},"order":{"field":"i"},
    "color":{"field":"t","type":"nominal","scale":{"domain":["g","d"],"range":["#8e8e8e","#383838"]},"legend":null}}},
  {"data":{"name":"lab"},"transform":[{"filter":"datum.p == 4"}],"mark":{"type":"text","align":"right","baseline":"middle","fontSize":16.5,"color":"#111111"},
   "encoding":{"x":{"field":"x","type":"quantitative","title":null,"scale":{"domain":[-4.3,4.3],"nice":false,"zero":false},"axis":{"orient":"top","labels":false,"values":[-4,-3,-2,-1,0,1,2,3,4]}},
    "y":{"field":"y","type":"quantitative","title":null,"scale":{"domain":[-3,3],"nice":false,"zero":false},"axis":{"orient":"right","labels":false,"values":[-3,-2,-1,0,1,2,3]}},
    "text":{"field":"label"}}}
 ]},
 {"width":271,"height":190,"resolve":{"axis":{"x":"independent","y":"independent"}},"layer":[
  {"data":{"name":"c"},"transform":[{"filter":"datum.p == 5"}],"mark":{"type":"line","interpolate":"cardinal-closed","strokeWidth":3.4},
   "encoding":{"x":{"field":"x","type":"quantitative","title":null,"scale":{"domain":[-4.3,4.3],"nice":false,"zero":false},"axis":{"orient":"bottom","values":[-4,-3,-2,-1,0,1,2,3,4]}},
    "y":{"field":"y","type":"quantitative","title":null,"scale":{"domain":[-3,3],"nice":false,"zero":false},"axis":{"orient":"left","values":[-3,-2,-1,0,1,2,3]}},
    "detail":{"field":"c"},"order":{"field":"i"},
    "color":{"field":"t","type":"nominal","scale":{"domain":["g","d"],"range":["#8e8e8e","#383838"]},"legend":null}}},
  {"data":{"name":"lab"},"transform":[{"filter":"datum.p == 5"}],"mark":{"type":"text","align":"right","baseline":"middle","fontSize":16.5,"color":"#111111"},
   "encoding":{"x":{"field":"x","type":"quantitative","title":null,"scale":{"domain":[-4.3,4.3],"nice":false,"zero":false},"axis":{"orient":"top","labels":false,"values":[-4,-3,-2,-1,0,1,2,3,4]}},
    "y":{"field":"y","type":"quantitative","title":null,"scale":{"domain":[-3,3],"nice":false,"zero":false},"axis":{"orient":"right","labels":false,"values":[-3,-2,-1,0,1,2,3]}},
    "text":{"field":"label"}}}
 ]}
]}
]
}
